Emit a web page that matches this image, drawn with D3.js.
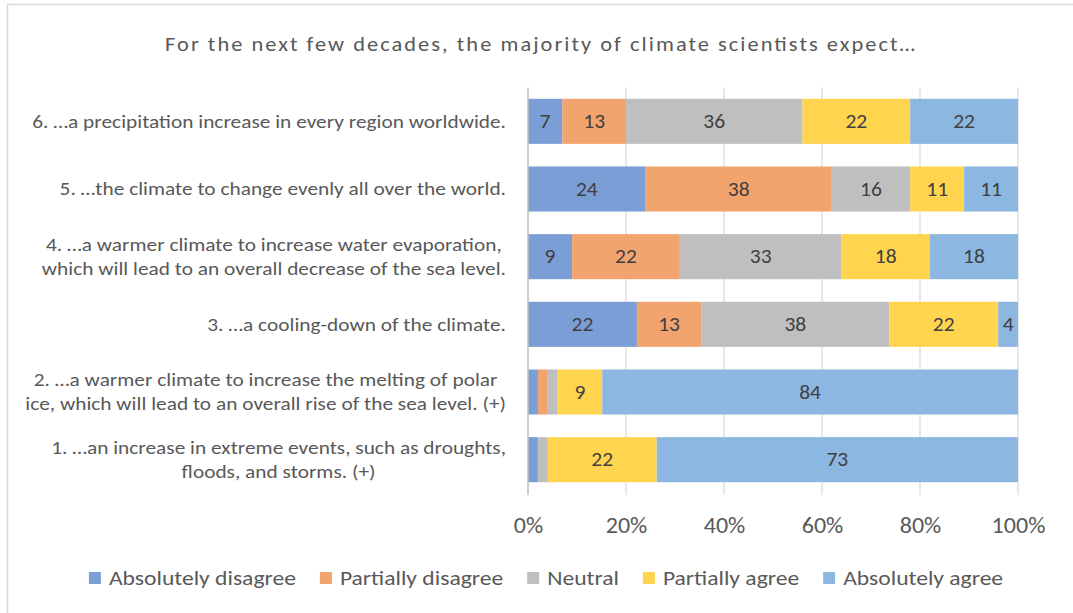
<!DOCTYPE html>
<html>
<head>
<meta charset="utf-8">
<script src="https://cdn.jsdelivr.net/npm/d3@7"></script>
<style>
  html, body { margin: 0; padding: 0; background: #fff; }
  svg text { font-family: Carlito, Lato, "Open Sans", sans-serif; }
</style>
</head>
<body>
<svg id="chart" width="1073" height="613"></svg>
<script>
// Survey statements (top to bottom = 6..1), each split into display lines
const statements = [
  ["6. …a precipitation increase in every region worldwide."],
  ["5. …the climate to change evenly all over the world."],
  ["4. …a warmer climate to increase water evaporation,", "which will lead to an overall decrease of the sea level."],
  ["3. …a cooling-down of the climate."],
  ["2. …a warmer climate to increase the melting of polar", "ice, which will lead to an overall rise of the sea level. (+)"],
  ["1. …an increase in extreme events, such as droughts,", "floods, and storms. (+)"]
];

const responses = ["Absolutely disagree", "Partially disagree", "Neutral", "Partially agree", "Absolutely agree"];

// Response shares per statement, same order as the statements above
const absolutelyDisagree = [7, 24, 9, 22, 2, 2];
const partiallyDisagree  = [13, 38, 22, 13, 2, 0];
const neutral            = [36, 16, 33, 38, 2, 2];
const partiallyAgree     = [22, 11, 18, 22, 9, 22];
const absolutelyAgree    = [22, 11, 18, 4, 84, 73];

const tickValues = [0, 0.2, 0.4, 0.6, 0.8, 1];

const colors = ["#7b9ed6", "#f2a46f", "#bfbfbf", "#ffd44f", "#8bb7e1"];

const series = [absolutelyDisagree, partiallyDisagree, neutral, partiallyAgree, absolutelyAgree];
const rows = statements.map((s, i) => {
  const r = { id: i };
  responses.forEach((k, j) => { r[k] = series[j][i]; });
  return r;
});

const svg = d3.select("#chart");

// text is drawn slightly widened horizontally around its anchor point
function wideText(parent, px, py, sx, size, anchor, fill) {
  return parent.append("g")
    .attr("transform", `translate(${px},${py}) scale(${sx},1)`)
    .append("text")
    .attr("text-anchor", anchor)
    .attr("dominant-baseline", "central")
    .attr("fill", fill)
    .style("font-size", size + "px");
}

// chart frame (left and top edges)
svg.append("path")
  .attr("d", "M7.5,613 V4.5 H1073")
  .attr("fill", "none")
  .attr("stroke", "#d9d9d9")
  .attr("stroke-width", 1.5);

const x = d3.scaleLinear().domain([0, 1]).range([528, 1018]);
const y = d3.scaleBand().domain(rows.map(r => r.id)).range([87.5, 493.5])
  .paddingInner(0.334).paddingOuter(0.167);

// normalise each row to 100 %
const stack = d3.stack().keys(responses).offset(d3.stackOffsetExpand);
const layers = stack(rows);

// title
wideText(svg, 540, 45, 1.15, 19.5, "middle", "#595959")
  .attr("textLength", 750 / 1.15)
  .attr("lengthAdjust", "spacing")
  .text("For the next few decades, the majority of climate scientists expect…");

// vertical gridlines
svg.append("g").selectAll("line").data(tickValues.slice(1)).join("line")
  .attr("x1", d => x(d)).attr("x2", d => x(d))
  .attr("y1", 87.5).attr("y2", 495)
  .attr("stroke", "#d9d9d9").attr("stroke-width", 1.2);

// bars
const g = svg.append("g");
layers.forEach((layer, j) => {
  g.append("g").attr("fill", colors[j])
    .selectAll("rect").data(layer).join("rect")
    .attr("x", d => x(d[0]))
    .attr("width", d => x(d[1]) - x(d[0]))
    .attr("y", d => y(d.data.id))
    .attr("height", y.bandwidth());
});

// value labels
const vl = svg.append("g");
layers.forEach((layer, j) => {
  layer.filter(d => d.data[responses[j]] >= 4).forEach(d => {
    wideText(vl, (x(d[0]) + x(d[1])) / 2, y(d.data.id) + y.bandwidth() / 2, 1.05, 20.5, "middle", "#404040")
      .text(d.data[responses[j]]);
  });
});

// category axis line
svg.append("line")
  .attr("x1", x(0)).attr("x2", x(0))
  .attr("y1", 87.5).attr("y2", 495)
  .attr("stroke", "#bfbfbf").attr("stroke-width", 1.5);

// x axis labels
const xAxis = d3.axisBottom(x).tickValues(tickValues).tickFormat(d3.format(".0%")).tickSize(0).tickPadding(0);
const ax = svg.append("g").attr("transform", "translate(0,525)").call(xAxis);
ax.select(".domain").remove();
ax.selectAll("text")
  .attr("dy", null).attr("y", 0)
  .attr("transform", "scale(1.12,1)")
  .attr("dominant-baseline", "central")
  .attr("fill", "#595959")
  .style("font-size", "21.5px")
  .style("font-family", "Carlito, Lato, sans-serif");

// category labels, line block right-aligned, lines centred on each other
const labelRight = 506, lineGap = 24, catScale = 1.22;
const cat = svg.append("g");
statements.forEach((lines, i) => {
  const cy = y(i) + y.bandwidth() / 2;
  const texts = lines.map((ln, k) => wideText(cat, 0, cy + (k - (lines.length - 1) / 2) * lineGap,
      catScale, 17.5, "middle", "#595959").text(ln));
  const w = d3.max(texts, t => t.node().getComputedTextLength()) * catScale;
  texts.forEach((t, k) => d3.select(t.node().parentNode)
    .attr("transform", `translate(${labelRight - w / 2},${cy + (k - (lines.length - 1) / 2) * lineGap}) scale(${catScale},1)`));
});

// legend
const legScale = 1.18;
const legend = svg.append("g");
const items = responses.map((r, j) => {
  const it = legend.append("g");
  it.append("rect").attr("width", 12).attr("height", 12).attr("y", -6).attr("fill", colors[j]);
  const t = wideText(it, 20, 0, legScale, 20, "start", "#595959").text(r);
  return { it, w: 20 + t.node().getComputedTextLength() * legScale };
});
const gap = 24;
const total = d3.sum(items, d => d.w) + gap * (items.length - 1);
let lx = 546 - total / 2;
items.forEach(d => { d.it.attr("transform", `translate(${lx},578)`); lx += d.w + gap; });
</script>
</body>
</html>
